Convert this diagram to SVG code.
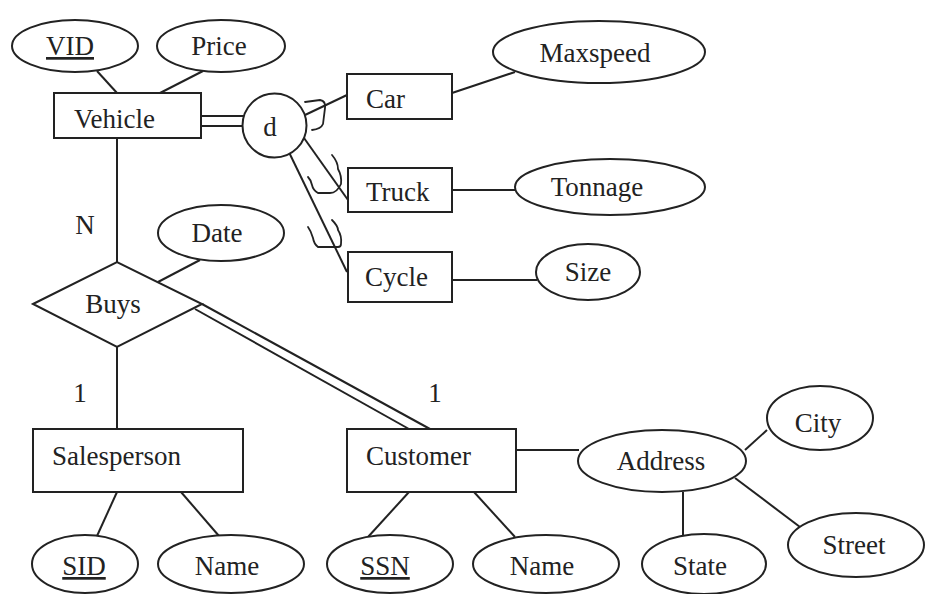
<svg xmlns="http://www.w3.org/2000/svg" width="925" height="594" viewBox="0 0 925 594">
<style>
.s{fill:#fff;stroke:#222;stroke-width:2}
.l{fill:none;stroke:#222;stroke-width:2}
.h{fill:none;stroke:#222;stroke-width:1.8;stroke-linecap:round;stroke-linejoin:round}
text{font-family:"Liberation Serif","Times New Roman",serif;font-size:27px;fill:#222}
.c{text-anchor:middle}
.u{text-decoration:underline}
</style>
<rect width="925" height="594" fill="#fff"/>
<g id="connectors">
<line class="l" x1="97" y1="71" x2="117" y2="93"/>
<line class="l" x1="203" y1="71" x2="160" y2="93"/>
<line class="l" x1="201" y1="116" x2="245" y2="116"/>
<line class="l" x1="201" y1="126" x2="243" y2="126"/>
<line class="l" x1="305" y1="115" x2="347" y2="95"/>
<line class="l" x1="304" y1="138" x2="348" y2="200"/>
<line class="l" x1="285" y1="144" x2="347" y2="272"/>
<line class="l" x1="452" y1="93" x2="515" y2="72"/>
<line class="l" x1="452" y1="190" x2="515" y2="190"/>
<line class="l" x1="452" y1="280" x2="537" y2="280"/>
<line class="l" x1="117" y1="138" x2="117" y2="262"/>
<line class="l" x1="200" y1="260" x2="158" y2="282"/>
<line class="l" x1="117" y1="347" x2="117" y2="429"/>
<line class="l" x1="202" y1="304" x2="430" y2="429"/>
<line class="l" x1="195" y1="309" x2="409" y2="429"/>
<line class="l" x1="117" y1="492" x2="97" y2="536"/>
<line class="l" x1="181" y1="492" x2="219" y2="536"/>
<line class="l" x1="409" y1="492" x2="368" y2="537"/>
<line class="l" x1="474" y1="492" x2="515" y2="537"/>
<line class="l" x1="516" y1="450" x2="579" y2="450"/>
<line class="l" x1="745" y1="450" x2="767" y2="430"/>
<line class="l" x1="683" y1="492" x2="683" y2="535"/>
<line class="l" x1="735" y1="478" x2="800" y2="527"/>
<path class="h" d="M305 102 L320 100 Q326 101 325 108 L323 124 Q321 129 312 130"/>
<path class="h" d="M332 155 Q338 162 338 169 Q342 176 341 184 Q337 193 330 193 L318 193 Q313 190 312 185 Q311 180 308 177"/>
<path class="h" d="M332 220 Q338 226 338 230 Q342 236 341 244 Q341 247 338 247 L318 247 Q314 244 313 238 Q311 231 308 227"/>
</g>
<g id="VID"><ellipse class="s" cx="75" cy="46" rx="63" ry="26"/><text x="70" y="55" class="c u">VID</text></g>
<g id="Price"><ellipse class="s" cx="221" cy="46" rx="64" ry="26"/><text x="219" y="55" class="c">Price</text></g>
<g id="Vehicle"><rect class="s" x="54" y="93" width="147" height="45"/><text x="74" y="128">Vehicle</text></g>
<g id="d"><circle class="s" cx="274.5" cy="125.5" r="32"/><text x="270" y="136" class="c">d</text></g>
<g id="Car"><rect class="s" x="347" y="74" width="105" height="45"/><text x="366" y="108">Car</text></g>
<g id="Truck"><rect class="s" x="348" y="168" width="104" height="44"/><text x="366" y="201">Truck</text></g>
<g id="Cycle"><rect class="s" x="348" y="252" width="104" height="50"/><text x="365" y="286">Cycle</text></g>
<g id="Maxspeed"><ellipse class="s" cx="599" cy="52" rx="106" ry="31"/><text x="595" y="62" class="c">Maxspeed</text></g>
<g id="Tonnage"><ellipse class="s" cx="610" cy="187" rx="95" ry="28"/><text x="597" y="196" class="c">Tonnage</text></g>
<g id="Size"><ellipse class="s" cx="588" cy="272" rx="52" ry="28"/><text x="588" y="281" class="c">Size</text></g>
<g id="Date"><ellipse class="s" cx="221" cy="233" rx="63" ry="28"/><text x="217" y="242" class="c">Date</text></g>
<g id="Buys"><polygon class="s" points="33,304 117,262 202,304 117,347"/><text x="113" y="313" class="c">Buys</text></g>
<g id="labels">
<text x="85" y="234" class="c">N</text>
<text x="80" y="402" class="c">1</text>
<text x="435" y="402" class="c">1</text>
</g>
<g id="Salesperson"><rect class="s" x="33" y="429" width="210" height="63"/><text x="52" y="465">Salesperson</text></g>
<g id="Customer"><rect class="s" x="347" y="429" width="169" height="63"/><text x="366" y="465">Customer</text></g>
<g id="SID"><ellipse class="s" cx="85" cy="564" rx="53" ry="29"/><text x="84" y="575" class="c u">SID</text></g>
<g id="Name1"><ellipse class="s" cx="231" cy="564" rx="73" ry="29"/><text x="227" y="575" class="c">Name</text></g>
<g id="SSN"><ellipse class="s" cx="390" cy="564" rx="63" ry="29"/><text x="385" y="575" class="c u">SSN</text></g>
<g id="Name2"><ellipse class="s" cx="546" cy="564" rx="73" ry="29"/><text x="542" y="575" class="c">Name</text></g>
<g id="Address"><ellipse class="s" cx="662" cy="461" rx="84" ry="31"/><text x="661" y="470" class="c">Address</text></g>
<g id="City"><ellipse class="s" cx="820" cy="418" rx="53" ry="32"/><text x="818" y="432" class="c">City</text></g>
<g id="State"><ellipse class="s" cx="704" cy="564" rx="62" ry="30"/><text x="700" y="575" class="c">State</text></g>
<g id="Street"><ellipse class="s" cx="856" cy="545" rx="68" ry="32"/><text x="854" y="554" class="c">Street</text></g>
</svg>
